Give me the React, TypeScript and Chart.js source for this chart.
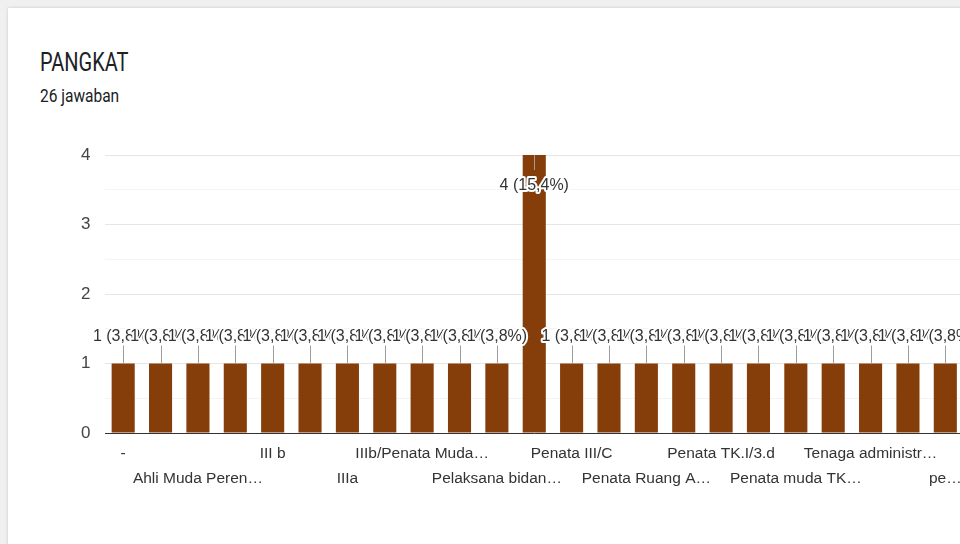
import React, { useEffect, useRef } from 'react';
import { Chart, registerables } from 'chart.js';

Chart.register(...registerables);

const TITLE = 'PANGKAT';
const SUBTITLE = '26 jawaban';
const TOTAL_RESPONSES = 26;

const categories = [
  '-',
  'Ahli Muda',
  'Ahli Muda Peren…',
  'Golongan III/b',
  'III b',
  'III/c',
  'IIIa',
  'IIIb',
  'IIIb/Penata Muda…',
  'Pelaksana',
  'Pelaksana bidan…',
  'Penata',
  'Penata III/C',
  'Penata Muda Tk.I',
  'Penata Ruang A…',
  'Penata TK I',
  'Penata TK.I/3.d',
  'Penata Tk.I',
  'Penata muda TK…',
  'Penata tingkat I',
  'Tenaga administr…',
  'Tenaga kesehatan',
  'pe…',
];

const counts = [1, 1, 1, 1, 1, 1, 1, 1, 1, 1, 1, 4, 1, 1, 1, 1, 1, 1, 1, 1, 1, 1, 1];

const yTicks = [0, 1, 2, 3, 4];

const CHART_FONT = '"Liberation Sans", Arial, sans-serif';
const BAR_COLOR = '#853d0a';

const annotationPlugin = {
  id: 'barAnnotations',
  afterDatasetsDraw(chart: any) {
    const { ctx, chartArea } = chart;
    const meta = chart.getDatasetMeta(0);
    ctx.save();
    ctx.font = `16px ${CHART_FONT}`;
    ctx.textAlign = 'center';
    ctx.textBaseline = 'middle';
    meta.data.forEach((bar: any, i: number) => {
      const v = counts[i];
      const pct = ((v / TOTAL_RESPONSES) * 100).toFixed(1).replace('.', ',');
      const text = `${v} (${pct}%)`;
      const x = bar.x;
      const top = bar.y;
      let s1: number;
      let ty: number;
      if (top - 38 < chartArea.top) {
        s1 = top + 15;
        ty = top + 31;
      } else {
        s1 = top - 18;
        ty = top - 27;
      }
      const sx = Math.round(x) + 0.5;
      ctx.strokeStyle = '#9e9e9e';
      ctx.lineWidth = 1;
      ctx.beginPath();
      ctx.moveTo(sx, top);
      ctx.lineTo(sx, s1);
      ctx.stroke();
      ctx.lineWidth = 4;
      ctx.lineJoin = 'round';
      ctx.strokeStyle = '#ffffff';
      ctx.strokeText(text, x, ty);
      ctx.fillStyle = '#333333';
      ctx.fillText(text, x, ty);
    });
    ctx.restore();
  },
};

export default function App() {
  const canvasRef = useRef<HTMLCanvasElement | null>(null);

  useEffect(() => {
    if (!canvasRef.current) return;
    const chart = new Chart(canvasRef.current, {
      type: 'bar',
      data: {
        labels: categories,
        datasets: [
          {
            data: counts,
            backgroundColor: BAR_COLOR,
            borderWidth: 0,
            categoryPercentage: 1,
            barPercentage: 0.618,
          },
        ],
      },
      options: {
        animation: false,
        responsive: false,
        devicePixelRatio: 1,
        layout: { padding: { left: 0, top: 155, right: 0, bottom: 0 } },
        plugins: {
          legend: { display: false },
          tooltip: { enabled: false },
        },
        scales: {
          x: {
            grid: { display: false, drawTicks: false },
            border: { display: false },
            ticks: {
              autoSkip: false,
              maxRotation: 0,
              minRotation: 0,
              padding: 8,
              color: '#333333',
              font: { family: CHART_FONT, size: 15.5, lineHeight: '25px' },
              callback: (_v: any, i: number) =>
                i % 4 === 0 ? [categories[i]] : i % 4 === 2 ? ['', categories[i]] : '',
            },
            afterFit: (s: any) => {
              s.height = 111;
              s.paddingLeft = 0;
              s.paddingRight = 0;
            },
          },
          y: {
            min: yTicks[0],
            max: yTicks[yTicks.length - 1],
            ticks: {
              stepSize: 0.5,
              padding: 14,
              color: '#444444',
              font: { family: CHART_FONT, size: 17 },
              callback: (v: any) => (yTicks.includes(Number(v)) ? String(v) : ''),
            },
            grid: {
              drawTicks: false,
              color: (c: any) =>
                c.tick.value === 0
                  ? '#333333'
                  : Number.isInteger(c.tick.value)
                  ? '#e6e6e6'
                  : '#f4f4f4',
            },
            border: { display: false },
            afterFit: (s: any) => {
              s.width = 104.5;
            },
          },
        },
      },
      plugins: [annotationPlugin],
    });
    return () => chart.destroy();
  }, []);

  return (
    <div
      style={{
        position: 'fixed',
        left: 0,
        top: 0,
        width: 960,
        height: 544,
        overflow: 'hidden',
        background: '#f0f0f0',
      }}
    >
      <div
        style={{
          position: 'absolute',
          left: 8,
          top: 8,
          right: -20,
          bottom: -20,
          background: '#ffffff',
          boxShadow: '0 0 3px rgba(0,0,0,0.18)',
        }}
      />
      <div
        style={{
          position: 'absolute',
          left: 40,
          top: 52,
          fontFamily: 'Roboto, sans-serif',
          fontSize: 20,
          lineHeight: '24px',
          color: '#202124',
          whiteSpace: 'nowrap',
          transform: 'scale(1, 1.28)',
          transformOrigin: '0 18.8px',
        }}
      >
        {TITLE}
      </div>
      <div
        style={{
          position: 'absolute',
          left: 40,
          top: 87.5,
          fontFamily: 'Roboto, sans-serif',
          fontSize: 15.5,
          lineHeight: '18px',
          color: '#202124',
          whiteSpace: 'nowrap',
          transform: 'scale(1, 1.18)',
          transformOrigin: '0 14.4px',
        }}
      >
        {SUBTITLE}
      </div>
      <canvas
        ref={canvasRef}
        width={964}
        height={544}
        style={{ position: 'absolute', left: 0, top: 0, width: 964, height: 544 }}
      />
    </div>
  );
}
